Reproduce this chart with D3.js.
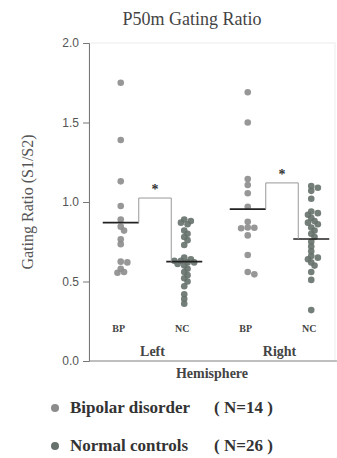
<!DOCTYPE html>
<html>
<head>
<meta charset="utf-8">
<script src="https://cdn.jsdelivr.net/npm/d3@7"></script>
<style>
  body { margin: 0; background: #fff; }
  svg { display: block; }
</style>
</head>
<body>
<div id="chart"></div>
<script>
// data
const hemispheres = ['Left', 'Right'];
const groups = ['BP', 'NC'];
const leftBP = [1.75, 1.39, 1.13, 0.975, 0.89, 0.845, 0.82, 0.765, 0.735, 0.625, 0.62, 0.58, 0.56, 0.555];
const leftNC = [0.89, 0.88, 0.87, 0.86, 0.82, 0.80, 0.78, 0.76, 0.73, 0.65, 0.64, 0.63, 0.63, 0.62, 0.62, 0.61, 0.60, 0.58, 0.56, 0.54, 0.52, 0.50, 0.47, 0.42, 0.39, 0.36];
const rightBP = [1.69, 1.50, 1.145, 1.107, 1.055, 0.97, 0.876, 0.84, 0.838, 0.835, 0.79, 0.667, 0.56, 0.545];
const rightNC = [1.10, 1.09, 1.07, 1.02, 0.94, 0.93, 0.92, 0.90, 0.88, 0.87, 0.86, 0.84, 0.82, 0.80, 0.78, 0.75, 0.72, 0.69, 0.66, 0.65, 0.64, 0.62, 0.60, 0.56, 0.51, 0.32];
const meanValues = [0.87, 0.625, 0.955, 0.767];   // Left BP, Left NC, Right BP, Right NC
const bracketTops = [1.025, 1.12];                // Left, Right
const yTicks = [0.0, 0.5, 1.0, 1.5, 2.0];
const legendNames = ['Bipolar disorder', 'Normal controls'];
const legendCounts = ['( N=14 )', '( N=26 )'];

const colors = { BP: '#8c8c8c', NC: '#66716b' };

const width = 337, height = 458;
const margin = { top: 43, right: 0, bottom: 97, left: 89 };

const svg = d3.select('#chart').append('svg')
    .attr('width', width)
    .attr('height', height);

const keys = [];
hemispheres.forEach(h => groups.forEach(g => keys.push(h + '-' + g)));
const series = [leftBP, leftNC, rightBP, rightNC];

// scales
const yScale = d3.scaleLinear()
    .domain([0, 2])
    .range([height - margin.bottom, margin.top]);

const xScale = d3.scalePoint()
    .domain(keys)
    .range([margin.left, 343])
    .padding(0.5);

// light frame
svg.append('rect')
    .attr('x', margin.left)
    .attr('y', yScale(2))
    .attr('width', 335 - margin.left)
    .attr('height', yScale(0) - yScale(2))
    .attr('fill', 'none')
    .attr('stroke', '#ececec');

// y axis
const yAxis = d3.axisLeft(yScale)
    .tickValues(yTicks)
    .tickFormat(d3.format('.1f'))
    .tickSize(6)
    .tickPadding(4);

const yAxisGroup = svg.append('g')
    .attr('transform', 'translate(' + margin.left + ',0)')
    .call(yAxis);
yAxisGroup.select('.domain').attr('stroke', '#777');
yAxisGroup.selectAll('.tick line').attr('stroke', '#777');
yAxisGroup.selectAll('.tick text')
    .attr('fill', '#555')
    .attr('font-family', 'Liberation Sans, Arial, sans-serif')
    .attr('font-size', 12);

// baseline
svg.append('line')
    .attr('x1', margin.left).attr('x2', width)
    .attr('y1', yScale(0)).attr('y2', yScale(0))
    .attr('stroke', '#888');

// beeswarm offsets (layout only)
const r = 3.3;
function dodge(values, diameter) {
    const pts = values.map((v, i) => ({ v, i, y: yScale(v), x: 0 }));
    const placed = [];
    pts.sort((a, b) => a.y - b.y).forEach(p => {
        let best = 0;
        const cands = [0];
        for (let k = 1; k < 8; k++) { cands.push(k * diameter * 0.5, -k * diameter * 0.5); }
        for (const c of cands) {
            const ok = placed.every(q => (q.x - c) ** 2 + (q.y - p.y) ** 2 >= diameter * diameter * 0.4);
            if (ok) { best = c; break; }
        }
        p.x = best;
        placed.push(p);
    });
    return pts;
}

series.forEach((vals, si) => {
    const key = keys[si];
    const grp = key.split('-')[1];
    const pts = dodge(vals, r * 2);
    svg.append('g').selectAll('circle')
        .data(pts)
        .join('circle')
        .attr('cx', d => xScale(key) + d.x)
        .attr('cy', d => d.y)
        .attr('r', r)
        .attr('fill', colors[grp])
        .attr('opacity', 0.9);
});

// mean lines
const halfLen = 18;
keys.forEach((k, i) => {
    svg.append('line')
        .attr('x1', xScale(k) - halfLen)
        .attr('x2', xScale(k) + halfLen)
        .attr('y1', yScale(meanValues[i]))
        .attr('y2', yScale(meanValues[i]))
        .attr('stroke', '#222')
        .attr('stroke-width', 1.6);
});

// significance brackets
hemispheres.forEach((h, hi) => {
    const xa = xScale(h + '-BP') + 18;
    const xb = xScale(h + '-NC') - 13;
    const ya = yScale(meanValues[hi * 2]);
    const yb = yScale(meanValues[hi * 2 + 1]);
    const yt = yScale(bracketTops[hi]);
    svg.append('path')
        .attr('d', d3.line()([[xa, ya], [xa, yt], [xb, yt], [xb, yb]]))
        .attr('fill', 'none')
        .attr('stroke', '#999')
        .attr('stroke-width', 1);
    svg.append('text')
        .attr('x', (xa + xb) / 2)
        .attr('y', yt - 4)
        .attr('text-anchor', 'middle')
        .attr('font-family', 'Liberation Serif, serif')
        .attr('font-size', 14)
        .attr('font-weight', 'bold')
        .attr('fill', '#333')
        .text('*');
});

const serif = 'Liberation Serif, Times New Roman, serif';

// category labels
keys.forEach(k => {
    svg.append('text')
        .attr('x', xScale(k) - 2)
        .attr('y', 332)
        .attr('text-anchor', 'middle')
        .attr('font-family', serif)
        .attr('font-weight', 'bold')
        .attr('font-size', 10)
        .attr('fill', '#444')
        .text(k.split('-')[1]);
});

hemispheres.forEach(h => {
    svg.append('text')
        .attr('x', (xScale(h + '-BP') + xScale(h + '-NC')) / 2)
        .attr('y', 356)
        .attr('text-anchor', 'middle')
        .attr('font-family', serif)
        .attr('font-weight', 'bold')
        .attr('font-size', 14)
        .attr('fill', '#444')
        .text(h);
});

svg.append('text')
    .attr('x', 212)
    .attr('y', 378)
    .attr('text-anchor', 'middle')
    .attr('font-family', serif)
    .attr('font-weight', 'bold')
    .attr('font-size', 14)
    .attr('fill', '#444')
    .text('Hemisphere');

// title
svg.append('text')
    .attr('x', 192)
    .attr('y', 25)
    .attr('text-anchor', 'middle')
    .attr('font-family', serif)
    .attr('font-size', 18)
    .attr('fill', '#444')
    .text('P50m Gating Ratio');

// y label
svg.append('text')
    .attr('transform', 'translate(33,202) rotate(-90)')
    .attr('text-anchor', 'middle')
    .attr('font-family', serif)
    .attr('font-size', 16)
    .attr('fill', '#555')
    .text('Gating Ratio (S1/S2)');

// legend
const legend = svg.append('g');
groups.forEach((g, i) => {
    const y = 408 + i * 38;
    legend.append('circle')
        .attr('cx', 55).attr('cy', y)
        .attr('r', 4)
        .attr('fill', colors[g]);
    legend.append('text')
        .attr('x', 70)
        .attr('y', y + 5)
        .attr('font-family', serif)
        .attr('font-weight', 'bold')
        .attr('font-size', 17)
        .attr('fill', '#333')
        .text(legendNames[i]);
    legend.append('text')
        .attr('x', 214)
        .attr('y', y + 5)
        .attr('font-family', serif)
        .attr('font-weight', 'bold')
        .attr('font-size', 17)
        .attr('fill', '#333')
        .style('white-space', 'pre')
        .text(legendCounts[i]);
});
</script>
</body>
</html>
